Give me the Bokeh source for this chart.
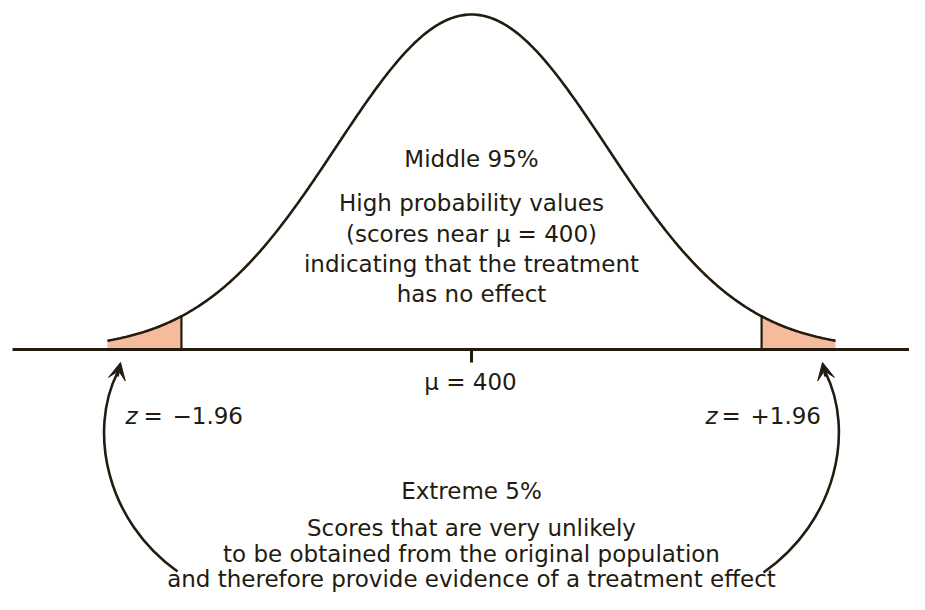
import numpy as np
from bokeh.plotting import figure
from bokeh.models import Range1d, Arrow, VeeHead
from bokeh.core.properties import value
from bokeh.embed import file_html
from bokeh.resources import INLINE

# ---------------- data ----------------
mean_score = 400
z_critical = [-1.96, 1.96]          # boundaries of the extreme 5%
tail_extent = 2.46                   # where the drawn curve stops
curve_sd = 0.912                     # drawn spread of the bell (in z units of the axis)
middle_text = ["Middle 95%", "High probability values", "(scores near \u03bc = 400)",
               "indicating that the treatment", "has no effect"]
extreme_text = ["Extreme 5%", "Scores that are very unlikely",
                "to be obtained from the original population",
                "and therefore provide evidence of a treatment effect"]
crit_values = ["\u22121.96", "+1.96"]
mean_text = "\u03bc = 400"

# ---------------- layout ----------------
W, H = 909, 594
ORG = 0
CX, AXY = 471.0, 349.0          # px of the mean and the baseline
PXZ, PXY = 148.0, 335.0         # px per z unit, px per unit of relative density

def fx(px):
    return (px - CX) / PXZ

def fy(py):
    return (AXY - py) / PXY

INK = "#231b10"
FILL = "#F4BC9C"
FONT = value("DejaVu Sans")
FS = "23px"

p = figure(width=W, height=H, output_backend="svg", toolbar_location=None,
           x_range=Range1d(fx(ORG), fx(ORG + W)), y_range=Range1d(fy(ORG + H), fy(ORG)),
           min_border=0)
p.axis.visible = False
p.grid.visible = False
p.outline_line_color = None
p.background_fill_color = "white"
p.border_fill_color = "white"

def dens(z):
    return np.exp(-0.5 * (np.asarray(z) / curve_sd) ** 2)

# shaded tails
for a, b in [(-tail_extent, z_critical[0]), (z_critical[1], tail_extent)]:
    zz = np.linspace(a, b, 60)
    p.varea(x=zz, y1=np.zeros_like(zz), y2=dens(zz), fill_color=FILL)

# bell curve
zz = np.linspace(-tail_extent, tail_extent, 400)
p.line(zz, dens(zz), line_color=INK, line_width=2.6)

# critical lines
p.segment(x0=z_critical, y0=[0, 0], x1=z_critical, y1=list(dens(z_critical)),
          line_color=INK, line_width=2.2)

# baseline and mean tick
p.segment(x0=[fx(12)], y0=[0], x1=[fx(930)], y1=[0], line_color=INK, line_width=3)
p.segment(x0=[0], y0=[0], x1=[0], y1=[fy(362)], line_color=INK, line_width=3)

# texts
mid_y = [158, 202, 233, 263, 293]
p.text(x=[fx(471)] * len(middle_text), y=[fy(v) for v in mid_y], text=middle_text,
       text_font=FONT, text_font_size=FS, text_align="center", text_baseline="middle",
       text_color=INK)
ext_y = [490, 527, 553, 578]
p.text(x=[fx(471)] * len(extreme_text), y=[fy(v) for v in ext_y], text=extreme_text,
       text_font=FONT, text_font_size=FS, text_align="center", text_baseline="middle",
       text_color=INK)
p.text(x=[fx(470)], y=[fy(381)], text=[mean_text], text_font=FONT, text_font_size=FS,
       text_align="center", text_baseline="middle", text_color=INK)

# z labels
zy = fy(415)
p.text(x=[fx(125), fx(705)], y=[zy, zy], text=["z", "z"], text_font=FONT,
       text_font_size=FS, text_font_style="italic", text_align="left",
       text_baseline="middle", text_color=INK)
p.text(x=[fx(143), fx(721)], y=[zy, zy], text=["=", "="], text_font=FONT,
       text_font_size=FS, text_align="left", text_baseline="middle", text_color=INK)
p.text(x=[fx(172), fx(750)], y=[zy, zy], text=crit_values, text_font=FONT,
       text_font_size=FS, text_align="left", text_baseline="middle", text_color=INK)

# curved arrows (px control points)
arrows = [
    dict(p0=(177, 571), c1=(105, 520), c2=(88, 430), p3=(117, 372), tip=(120, 362)),
    dict(p0=(763, 572), c1=(837, 520), c2=(854, 430), p3=(825, 372), tip=(822, 362)),
]
for a in arrows:
    p.bezier(x0=[fx(a["p0"][0])], y0=[fy(a["p0"][1])],
             x1=[fx(a["p3"][0])], y1=[fy(a["p3"][1])],
             cx0=[fx(a["c1"][0])], cy0=[fy(a["c1"][1])],
             cx1=[fx(a["c2"][0])], cy1=[fy(a["c2"][1])],
             line_color=INK, line_width=2.6)
    p.add_layout(Arrow(end=VeeHead(size=17, fill_color=INK, line_color=INK, line_width=1),
                       x_start=fx(a["p3"][0]), y_start=fy(a["p3"][1] + 4),
                       x_end=fx(a["tip"][0]), y_end=fy(a["tip"][1]),
                       line_color=INK, line_width=2.6))

open("out.html", "w").write(file_html(p, INLINE))
